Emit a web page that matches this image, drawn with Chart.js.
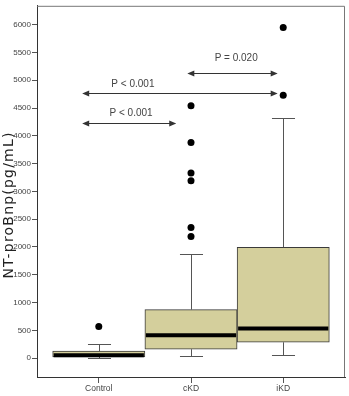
<!DOCTYPE html>
<html>
<head>
<meta charset="utf-8">
<script src="https://cdn.jsdelivr.net/npm/chart.js@4"></script>
<style>
    html, body { margin: 0; padding: 0; background: #fff; }
    #wrap { width: 349px; height: 396px; }
</style>
</head>
<body>
<div id="wrap"><canvas id="bnpChart"></canvas></div>
<script>
// NT-proBNP box plot data
const categories = ['Control', 'cKD', 'iKD'];
const lowerWhisker = [5, 35, 55];
const q1 = [20, 160, 285];
const median = [50, 410, 535];
const q3 = [125, 872, 1995];
const upperWhisker = [250, 1870, 4325];
const outlierGroup = [0, 1, 1, 1, 1, 1, 1, 2, 2];
const outlierValue = [570, 4540, 3880, 3330, 3190, 2350, 2190, 4730, 5950];
const yTickValues = [0, 500, 1000, 1500, 2000, 2500, 3000, 3500, 4000, 4500, 5000, 5500, 6000];

// significance brackets (x in category units, y in pg/mL)
const pLabels = ['P = 0.020', 'P < 0.001', 'P < 0.001'];
const pFrom = [0.96, -0.18, -0.18];
const pTo = [1.94, 1.94, 0.84];
const pLevel = [5130, 4770, 4235];
const pTextX = [1.49, 0.37, 0.35];
const pTextY = [5395, 4930, 4415];

const boxExtras = {
    id: 'boxExtras',
    afterDatasetsDraw(chart) {
        const ctx = chart.ctx;
        const xs = chart.scales.x;
        const ys = chart.scales.y;
        const meta = chart.getDatasetMeta(0);
        ctx.save();

        // whiskers, caps and medians
        categories.forEach((c, i) => {
            const bar = meta.data[i];
            const cx = Math.round(bar.x) + 0.5;
            const half = bar.width / 2;
            const cap = bar.width * 0.125;
            const yHi = Math.round(ys.getPixelForValue(upperWhisker[i])) + 0.5;
            const yLo = Math.round(ys.getPixelForValue(lowerWhisker[i])) + 0.5;
            ctx.strokeStyle = '#555';
            ctx.lineWidth = 1;
            ctx.beginPath();
            ctx.moveTo(cx, ys.getPixelForValue(q3[i]));
            ctx.lineTo(cx, yHi);
            ctx.moveTo(cx - cap, yHi);
            ctx.lineTo(cx + cap, yHi);
            ctx.moveTo(cx, ys.getPixelForValue(q1[i]));
            ctx.lineTo(cx, yLo);
            ctx.moveTo(cx - cap, yLo);
            ctx.lineTo(cx + cap, yLo);
            ctx.stroke();

            ctx.strokeStyle = '#000';
            ctx.lineWidth = 4;
            ctx.beginPath();
            const ym = ys.getPixelForValue(median[i]);
            ctx.moveTo(bar.x - half + 1, ym);
            ctx.lineTo(bar.x + half - 1, ym);
            ctx.stroke();
        });

        // p-value arrows
        ctx.strokeStyle = '#333';
        ctx.fillStyle = '#333';
        ctx.lineWidth = 1;
        pLabels.forEach((label, i) => {
            const x1 = xs.getPixelForValue(pFrom[i]);
            const x2 = xs.getPixelForValue(pTo[i]);
            const y = Math.round(ys.getPixelForValue(pLevel[i])) + 0.5;
            ctx.beginPath();
            ctx.moveTo(x1 + 4, y);
            ctx.lineTo(x2 - 4, y);
            ctx.stroke();
            ctx.beginPath();
            ctx.moveTo(x1, y);
            ctx.lineTo(x1 + 7, y - 3);
            ctx.lineTo(x1 + 7, y + 3);
            ctx.closePath();
            ctx.moveTo(x2, y);
            ctx.lineTo(x2 - 7, y - 3);
            ctx.lineTo(x2 - 7, y + 3);
            ctx.closePath();
            ctx.fill();

            ctx.font = '10px "Liberation Sans", Arial, sans-serif';
            ctx.fillStyle = '#444';
            ctx.textAlign = 'center';
            ctx.textBaseline = 'middle';
            ctx.fillText(label, xs.getPixelForValue(pTextX[i]), ys.getPixelForValue(pTextY[i]));
            ctx.fillStyle = '#333';
        });
        ctx.restore();
    },
    afterDraw(chart) {
        const ctx = chart.ctx;
        const area = chart.chartArea;
        ctx.save();
        // top and right frame
        ctx.strokeStyle = '#777';
        ctx.lineWidth = 1;
        ctx.beginPath();
        ctx.moveTo(area.left, area.top + 0.5);
        ctx.lineTo(area.right - 0.5, area.top + 0.5);
        ctx.lineTo(area.right - 0.5, area.bottom);
        ctx.stroke();

        // y axis title
        ctx.translate(9, 205);
        ctx.rotate(-Math.PI / 2);
        ctx.font = '14px "DejaVu Sans", sans-serif';
        ctx.letterSpacing = '1.2px';
        ctx.fillStyle = '#222';
        ctx.textAlign = 'center';
        ctx.textBaseline = 'middle';
        ctx.fillText('NT-proBnp(pg/mL)', 0, 0);
        ctx.restore();
    }
};

const boxData = categories.map((c, i) => ({ x: i, y: [q1[i], q3[i]] }));
const outlierData = outlierValue.map((v, i) => ({ x: outlierGroup[i], y: v }));

new Chart(document.getElementById('bnpChart'), {
    type: 'bar',
    data: {
        datasets: [{
            label: 'IQR',
            data: boxData,
            backgroundColor: '#D4CF9C',
            borderColor: '#3a3a3a',
            borderWidth: 1,
            borderSkipped: false,
            barPercentage: 1,
            categoryPercentage: 1
        }, {
            type: 'scatter',
            label: 'Outliers',
            data: outlierData,
            backgroundColor: '#000',
            borderColor: '#000',
            pointRadius: 3.5,
            borderWidth: 0
        }]
    },
    plugins: [boxExtras],
    options: {
        responsive: true,
        maintainAspectRatio: false,
        animation: false,
        layout: {
            padding: { top: 2, right: 2, left: 0, bottom: 0 }
        },
        plugins: {
            legend: { display: false },
            tooltip: { enabled: false }
        },
        scales: {
            x: {
                type: 'linear',
                min: -0.67,
                max: 2.67,
                offset: false,
                afterBuildTicks: function(scale) {
                    scale.ticks = categories.map((c, i) => ({ value: i }));
                },
                afterFit: function(scale) {
                    scale.height = 19;
                },
                grid: {
                    offset: false,
                    drawOnChartArea: false,
                    tickLength: 6,
                    color: '#555'
                },
                border: { color: '#333', width: 1 },
                ticks: {
                    padding: 1,
                    maxRotation: 0,
                    autoSkip: false,
                    color: '#444',
                    font: { family: '"Liberation Sans", Arial, sans-serif', size: 8.5 },
                    callback: function(value) {
                        return categories[value];
                    }
                }
            },
            y: {
                min: -340,
                max: 6340,
                afterBuildTicks: function(scale) {
                    scale.ticks = yTickValues.map(v => ({ value: v }));
                },
                afterFit: function(scale) {
                    scale.width = 37;
                },
                grid: {
                    drawOnChartArea: false,
                    tickLength: 5,
                    color: '#555'
                },
                border: { color: '#333', width: 1 },
                ticks: {
                    padding: 1,
                    color: '#444',
                    font: { family: '"Liberation Sans", Arial, sans-serif', size: 8 },
                    callback: function(value) {
                        return String(value);
                    }
                }
            }
        }
    }
});
</script>
</body>
</html>
